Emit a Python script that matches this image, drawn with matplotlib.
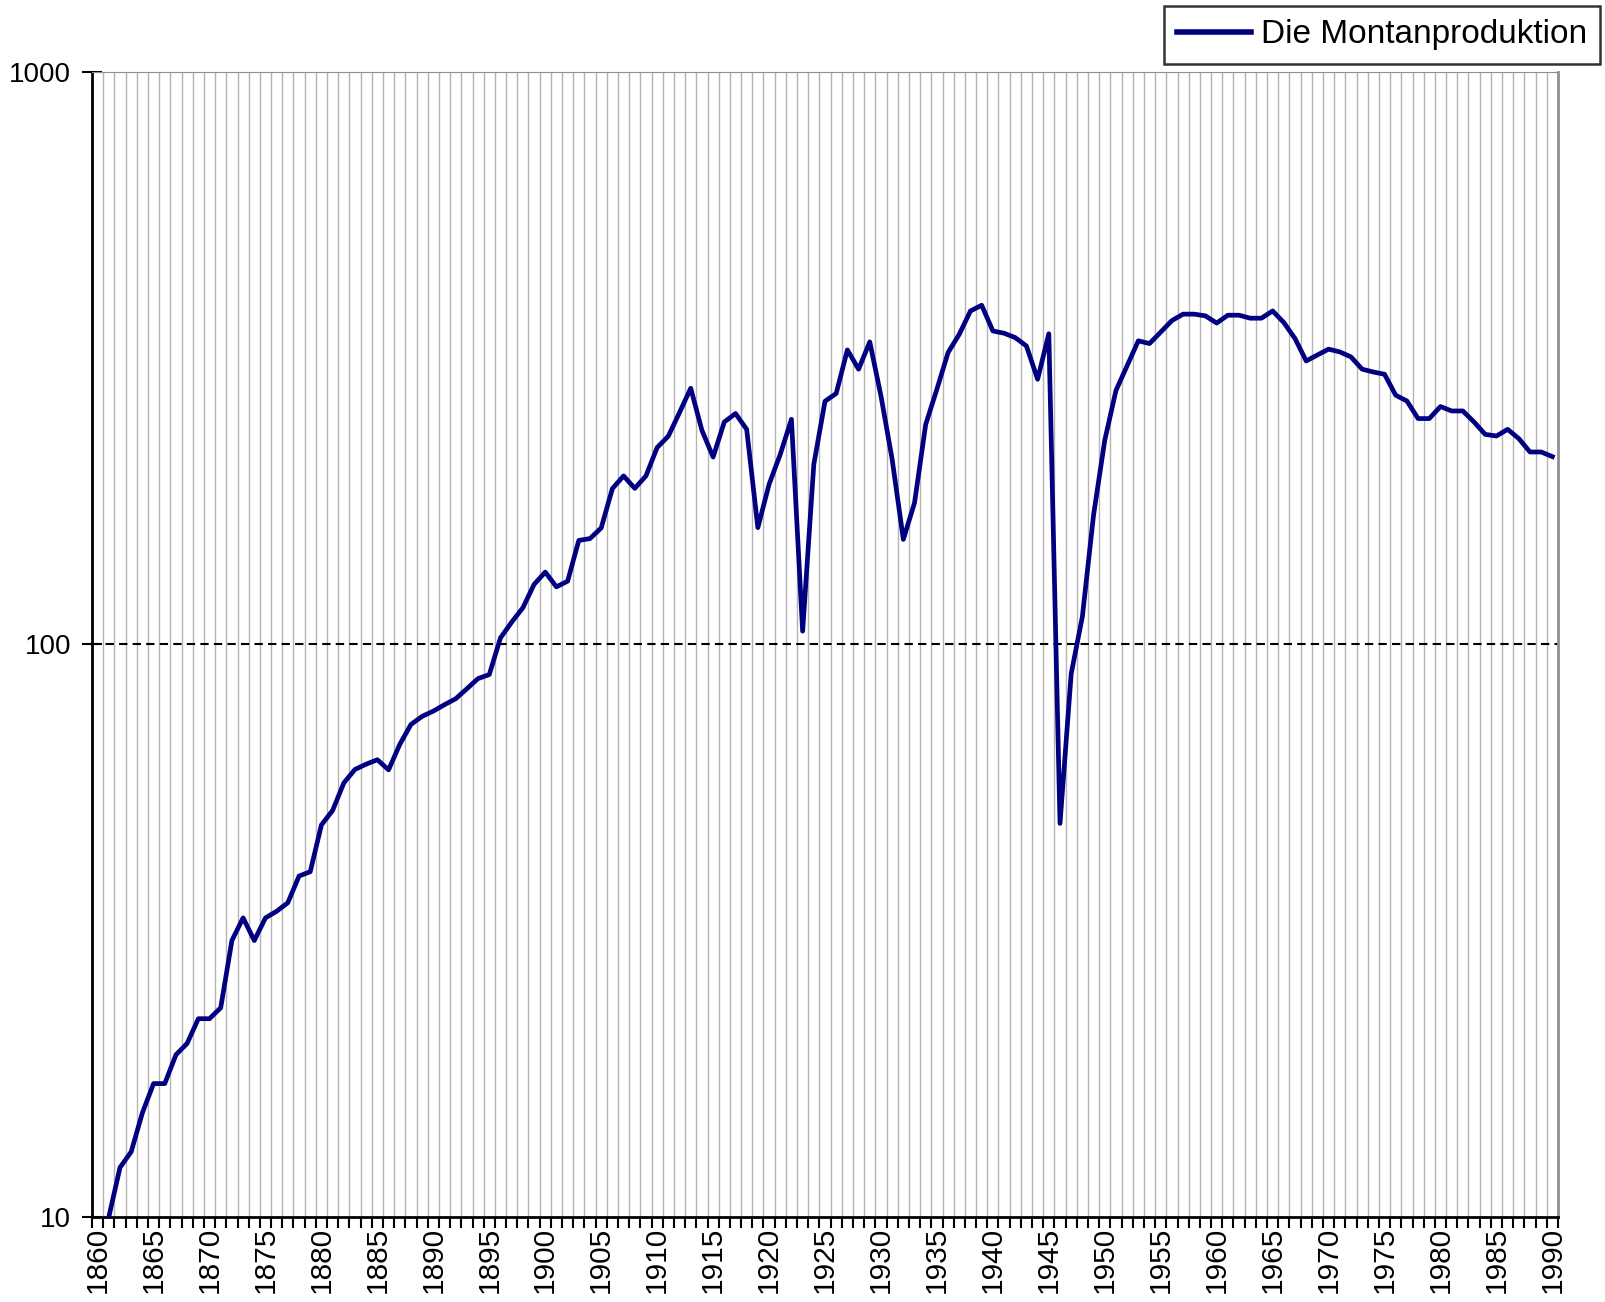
import numpy as np
import matplotlib
matplotlib.use('Agg')
import matplotlib.pyplot as plt
from matplotlib.ticker import FixedLocator, NullFormatter

plt.rcParams['font.family'] = ['Liberation Sans', 'DejaVu Sans']

# dados (indice, escala logaritmica)
anos = list(range(1861, 1991))
montanproduktion = [
    10.0, 12.2, 13.0, 15.2, 17.1, 17.1, 19.2, 20.1, 22.2, 22.2,      # 1861-1870
    23.2, 30.4, 33.3, 30.4, 33.3, 34.2, 35.4, 39.4, 40.1, 48.4,      # 1871-1880
    51.3, 57.3, 60.5, 61.8, 62.9, 60.4, 66.9, 72.5, 74.9, 76.5,      # 1881-1890
    78.5, 80.4, 83.7, 87.2, 88.6, 102.7, 109.4, 115.9, 127.3, 133.8, # 1891-1900
    126.1, 129.0, 152.0, 153.1, 159.8, 187.2, 197.0, 187.4, 197.0, 220.8,  # 1901-1910
    231.2, 254.2, 280.3, 236.7, 212.5, 244.7, 253.2, 237.6, 160.0, 190.4,  # 1911-1920
    214.8, 247.4, 105.5, 206.4, 266.0, 274.5, 327.0, 302.6, 337.7, 271.8,  # 1921-1930
    210.6, 152.6, 176.8, 242.4, 279.2, 323.6, 348.3, 382.5, 391.4, 352.9,  # 1931-1940
    349.7, 343.6, 332.2, 290.6, 349.0, 48.7, 88.9, 111.9, 168.4, 227.4,    # 1941-1950
    277.7, 306.9, 339.2, 335.5, 351.4, 368.0, 377.6, 377.6, 375.0, 364.3,  # 1951-1960
    376.0, 376.0, 371.5, 371.5, 382.5, 365.1, 342.3, 312.8, 320.4, 328.0,  # 1961-1970
    324.4, 317.9, 302.6, 299.2, 296.5, 272.5, 266.3, 248.1, 248.1, 260.4,  # 1971-1980
    255.8, 255.8, 244.7, 232.8, 231.3, 237.6, 228.9, 216.9, 216.9, 212.9,  # 1981-1990
]
rotulos_anos = list(range(1860, 1991, 5))
rotulos_y = [10, 100, 1000]

fig = plt.figure(figsize=(16.06, 13.02), dpi=100)
ax = fig.add_axes([0.0573, 0.0653, 0.9128, 0.8794])

ax.plot(anos, montanproduktion, color='#000080', linewidth=3.4,
        label='Die Montanproduktion', zorder=3)
ax.axhline(100, color='black', linestyle=(0, (4, 2.5)), linewidth=1.5, zorder=2)

ax.set_yscale('log')
ax.set_ylim(10, 1000)
ax.set_xlim(1859.5, 1990.5)

# eixo y
ax.yaxis.set_major_locator(FixedLocator(rotulos_y))
ax.set_yticklabels([str(v) for v in rotulos_y])
ax.yaxis.set_minor_locator(FixedLocator([]))
ax.yaxis.set_minor_formatter(NullFormatter())
ax.tick_params(axis='y', which='major', direction='inout', length=14, width=1.5,
               labelsize=20, pad=8)

# eixo x: marcas entre as categorias, rotulos no centro
ax.set_xticks(rotulos_anos)
ax.set_xticklabels([str(a) for a in rotulos_anos], rotation=90)
ax.xaxis.set_minor_locator(FixedLocator(np.arange(1859.5, 1991, 1)))
ax.tick_params(axis='x', which='major', length=0, labelsize=21.5, pad=7)
ax.tick_params(axis='x', which='minor', direction='out', length=8, width=1.5)
ax.grid(True, which='minor', axis='x', color='#b4b4b4', linewidth=1.0, zorder=1)

# bordas
ax.spines['left'].set_linewidth(2)
ax.spines['bottom'].set_linewidth(2)
ax.spines['top'].set_color('#909090')
ax.spines['top'].set_linestyle((0, (2, 1)))
ax.spines['right'].set_color('#909090')
ax.spines['right'].set_linewidth(2)

leg = fig.legend(loc='upper right', bbox_to_anchor=(1600 / 1606, 1 - 6 / 1302),
                 fontsize=24, frameon=True, fancybox=False, handlelength=2.2,
                 handletextpad=0.3, borderpad=0.4, borderaxespad=0)
leg.get_frame().set_edgecolor('black')
leg.get_frame().set_linewidth(1.8)
leg.get_lines()[0].set_linewidth(4)

fig.savefig('out.png', dpi=100)
